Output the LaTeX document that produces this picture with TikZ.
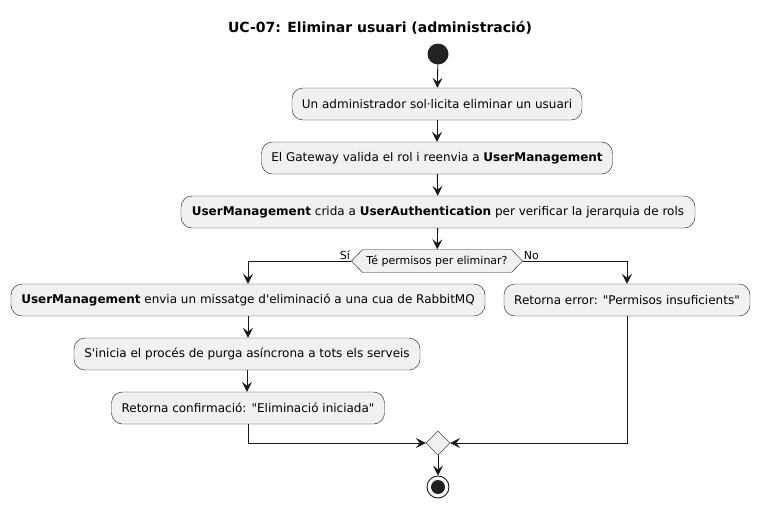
\documentclass[tikz,border=0pt]{standalone}
\usepackage{fontspec}
\setmainfont{DejaVu Sans}
\usetikzlibrary{arrows.meta,shapes.geometric,shapes.symbols}
\definecolor{umlfill}{HTML}{F1F1F1}
\definecolor{umlline}{HTML}{181818}
\definecolor{umldot}{HTML}{222222}
\begin{document}
\begin{tikzpicture}[x=1pt,y=-1pt,
  action/.style={draw=umlline,fill=umlfill,rounded corners=11pt,minimum height=32pt,
    inner xsep=0pt,font=\fontsize{12}{14}\selectfont},
  choice/.style={draw=umlline,fill=umlfill,signal,signal to=east and west,signal pointer angle=92,
    minimum height=23pt,inner xsep=3pt,inner ysep=0pt,font=\fontsize{11}{13}\selectfont},
  merge/.style={draw=umlline,fill=umlfill,diamond,minimum size=24pt,inner sep=0pt},
  flow/.style={draw=umlline,line width=0.9pt,-{Stealth[length=10pt,width=10pt,inset=4pt]}},
  guard/.style={font=\fontsize{11}{13}\selectfont,inner sep=1pt}]
\useasboundingbox (0,0) rectangle (761,507);
\node[font=\bfseries\fontsize{14}{17}\selectfont] (title) at (380,28) {UC-07: Eliminar usuari (administració)};
\node[circle,fill=umldot,minimum size=21pt,inner sep=0pt] (start) at (438,54) {};
\node[action,minimum width=290pt] (ask) at (437,104) {Un administrador sol·licita eliminar un usuari};
\node[action,minimum width=351pt] (gateway) at (437,158) {El Gateway valida el rol i reenvia a \textbf{UserManagement}};
\node[action,minimum width=514pt] (verify) at (438,212) {\textbf{UserManagement} crida a \textbf{UserAuthentication} per verificar la jerarquia de rols};
\node[choice,minimum width=171pt] (allowed) at (437,261) {Té permisos per eliminar?};
\node[action,minimum width=474pt] (send) at (248,300) {\textbf{UserManagement} envia un missatge d\textquotesingle eliminació a una cua de RabbitMQ};
\node[action,minimum width=346pt] (purge) at (247,354) {S\textquotesingle inicia el procés de purga asíncrona a tots els serveis};
\node[action,minimum width=273pt] (confirm) at (248,408) {Retorna confirmació: \textquotedbl Eliminació iniciada\textquotedbl};
\node[action,minimum width=246pt] (refuse) at (627,300) {Retorna error: \textquotedbl Permisos insuficients\textquotedbl};
\node[merge] (join) at (438,443) {};
\node[circle,draw=umlline,line width=0.9pt,minimum size=22pt,inner sep=0pt] (stop) at (438,487) {};
\node[circle,fill=umldot,minimum size=14pt,inner sep=0pt] (stopdot) at (stop) {};
\node[guard,anchor=south east] (yes) at (allowed.west) {Sí};
\node[guard,anchor=south west] (no) at (allowed.east) {No};
% connectors
\draw[flow] (start) -- (ask);
\draw[flow] (ask) -- (gateway);
\draw[flow] (gateway) -- (verify);
\draw[flow] (verify) -- (allowed);
\draw[flow] (allowed.west) -| (send.north);
\draw[flow] (allowed.east) -| (refuse.north);
\draw[flow] (send) -- (send|-purge.north);
\draw[flow] (purge) -- (purge|-confirm.north);
\draw[flow] (confirm.south) |- (join.west);
\draw[flow] (refuse.south) |- (join.east);
\draw[flow] (join) -- (stop);
\end{tikzpicture}
\end{document}
